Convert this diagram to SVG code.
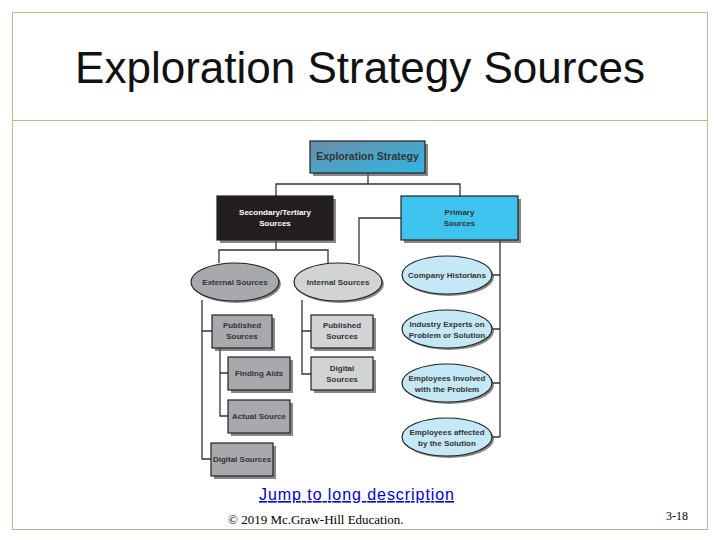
<svg xmlns="http://www.w3.org/2000/svg" width="720" height="540" viewBox="0 0 720 540">
<defs>
<linearGradient id="g" x1="0" y1="0" x2="1" y2="1"><stop offset="0" stop-color="#6b8ea6"/><stop offset="1" stop-color="#2fb6e6"/></linearGradient>
<style>
.s{fill:#555;opacity:.7}
.t{font-family:"Liberation Sans",Arial,sans-serif;font-weight:bold;font-size:8px;text-anchor:middle;fill:#333}
.b{stroke:#222;stroke-width:1.2}
.c{fill:none;stroke:#333;stroke-width:1.3}
</style>
</defs>
<rect width="720" height="540" fill="#fff"/>
<rect x="12.5" y="12.5" width="695" height="517" fill="none" stroke="#b8b89a"/>
<line x1="12" y1="120.5" x2="708" y2="120.5" stroke="#b8b89a"/>
<text x="360" y="83" font-family="Liberation Sans,Arial,sans-serif" font-size="44" text-anchor="middle" fill="#111">Exploration Strategy Sources</text>
<g id="connectors" class="c">
<path d="M368 173V184M276 196V184H460V196"/>
<path d="M276 240V250M219 263V250H328V263"/>
<path d="M401 218H359V264"/>
<path d="M500 240V437M492 275H500M492 329H500M492 383H500M492 437H500"/>
<path d="M202 300V459H212M202 331H212"/>
<path d="M220 348V416H228M220 373H228"/>
<path d="M302 300V374H311M302 331H311"/>
</g>
<g id="exploration"><rect class="s" x="313" y="144" width="115" height="32"/><rect class="b" x="310" y="141" width="115" height="32" fill="url(#g)"/><text class="t" x="367.5" y="160" style="font-size:10.5px">Exploration Strategy</text></g>
<g id="secondary"><rect class="s" x="220" y="199" width="116" height="44"/><rect class="b" x="217" y="196" width="116" height="44" fill="#231f20"/><text class="t" x="275" y="215" style="fill:#fff">Secondary/Tertiary</text><text class="t" x="275" y="226" style="fill:#fff">Sources</text></g>
<g id="primary"><rect class="s" x="404" y="199" width="117" height="44"/><rect class="b" x="401" y="196" width="117" height="44" fill="#3cc4ef"/><text class="t" x="459.5" y="215">Primary</text><text class="t" x="459.5" y="226">Sources</text></g>
<g id="external"><ellipse class="s" cx="237" cy="284" rx="44" ry="19"/><ellipse class="b" cx="235" cy="282" rx="44" ry="19" fill="#a7a9ac"/><text class="t" x="235" y="285">External Sources</text></g>
<g id="internal"><ellipse class="s" cx="340" cy="284" rx="44" ry="19"/><ellipse class="b" cx="338" cy="282" rx="44" ry="19" fill="#d1d3d4"/><text class="t" x="338" y="285">Internal Sources</text></g>
<g id="historians"><ellipse class="s" cx="449" cy="277" rx="45" ry="19"/><ellipse class="b" cx="447" cy="275" rx="45" ry="19" fill="#c5e8f7"/><text class="t" x="447" y="278">Company Historians</text></g>
<g id="experts"><ellipse class="s" cx="449" cy="331" rx="45" ry="19"/><ellipse class="b" cx="447" cy="329" rx="45" ry="19" fill="#c5e8f7"/><text class="t" x="447" y="327">Industry Experts on</text><text class="t" x="447" y="338">Problem or Solution</text></g>
<g id="involved"><ellipse class="s" cx="449" cy="385" rx="45" ry="19"/><ellipse class="b" cx="447" cy="383" rx="45" ry="19" fill="#c5e8f7"/><text class="t" x="447" y="381">Employees Involved</text><text class="t" x="447" y="392">with the Problem</text></g>
<g id="affected"><ellipse class="s" cx="449" cy="439" rx="45" ry="19"/><ellipse class="b" cx="447" cy="437" rx="45" ry="19" fill="#c5e8f7"/><text class="t" x="447" y="435">Employees affected</text><text class="t" x="447" y="446">by the Solution</text></g>
<g id="ext-published"><rect class="s" x="215" y="318" width="60" height="33"/><rect class="b" x="212" y="315" width="60" height="33" fill="#a7a9ac"/><text class="t" x="242" y="328">Published</text><text class="t" x="242" y="339">Sources</text></g>
<g id="finding"><rect class="s" x="231" y="360" width="62" height="33"/><rect class="b" x="228" y="357" width="62" height="33" fill="#a7a9ac"/><text class="t" x="259" y="376">Finding Aids</text></g>
<g id="actual"><rect class="s" x="231" y="403" width="62" height="33"/><rect class="b" x="228" y="400" width="62" height="33" fill="#a7a9ac"/><text class="t" x="259" y="419">Actual Source</text></g>
<g id="ext-digital"><rect class="s" x="214" y="446" width="62" height="33"/><rect class="b" x="211" y="443" width="62" height="33" fill="#a7a9ac"/><text class="t" x="242" y="462">Digital Sources</text></g>
<g id="int-published"><rect class="s" x="314" y="318" width="62" height="33"/><rect class="b" x="311" y="315" width="62" height="33" fill="#d1d3d4"/><text class="t" x="342" y="328">Published</text><text class="t" x="342" y="339">Sources</text></g>
<g id="int-digital"><rect class="s" x="314" y="360" width="62" height="33"/><rect class="b" x="311" y="357" width="62" height="33" fill="#d1d3d4"/><text class="t" x="342" y="371">Digital</text><text class="t" x="342" y="382">Sources</text></g>
<text x="259" y="500" font-family="Liberation Sans,Arial,sans-serif" font-size="16" textLength="195" fill="#0000cc" text-decoration="underline">Jump to long description</text>
<text x="228" y="524" font-family="Liberation Serif,Times New Roman,serif" font-size="13" fill="#000">© 2019 Mc.Graw-Hill Education.</text>
<text x="666" y="520" font-family="Liberation Serif,Times New Roman,serif" font-size="12" fill="#000">3-18</text>
</svg>
